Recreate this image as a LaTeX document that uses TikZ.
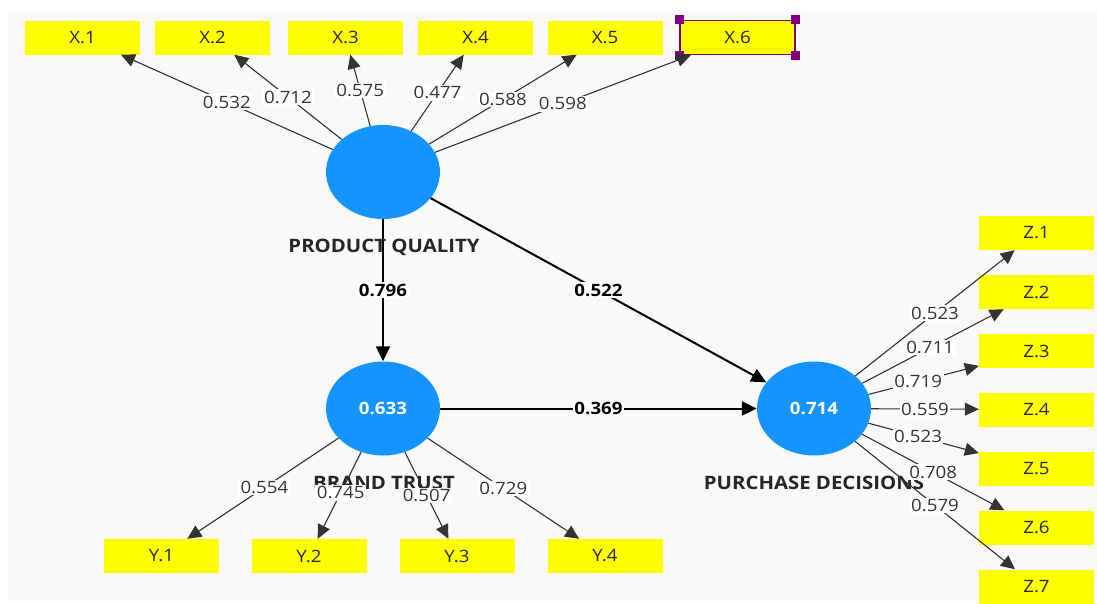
\documentclass[tikz,border=0pt]{standalone}
\usepackage{fontspec}
\setmainfont{Open Sans}[FakeStretch=1.1]
\usetikzlibrary{shapes.geometric,arrows.meta}
\definecolor{lvblue}{RGB}{20,148,255}
\definecolor{indyellow}{RGB}{255,255,0}
\definecolor{canvas}{RGB}{249,249,249}
\definecolor{selpurple}{RGB}{128,0,128}
\begin{document}
\begin{tikzpicture}[x=1pt,y=-1pt,
  indicator/.style={rectangle, fill=indyellow, minimum width=115pt, minimum height=34pt,
    inner sep=0pt, font=\fontsize{17}{17}\selectfont, text=black!85},
  latent/.style={ellipse, fill=lvblue, minimum width=114pt, minimum height=94pt,
    inner sep=0pt, text=white, font=\fontsize{17}{17}\selectfont\bfseries},
  lvname/.style={font=\fontsize{18.5}{19}\selectfont\bfseries, text=black!85},
  loading/.style={draw=black!80, line width=1.1pt, -{Triangle[length=14pt,width=13pt]}},
  pathcoef/.style={draw=black, line width=2pt, -{Triangle[length=15pt,width=14pt]}},
  lval/.style={fill=white, inner sep=1.5pt, font=\fontsize{17}{17}\selectfont, text=black!80},
  pval/.style={fill=white, inner sep=1.5pt, font=\fontsize{17}{17}\selectfont\bfseries, text=black},
  handle/.style={rectangle, fill=selpurple, minimum size=9pt, inner sep=0pt},
]
\useasboundingbox (0,0) rectangle (1097,603);
\fill[white] (0,0) rectangle (1097,603);
\fill[canvas] (8,11) rectangle (1097,603);

% latent variables
\node[latent] (pq) at (383,172) {};
\node[latent] (bt) at (383,408.5) {0.633};
\node[latent] (pd) at (814,408.5) {0.714};
\node[lvname] (pqname) at (384,247) {PRODUCT QUALITY};
\node[lvname] (btname) at (384,483) {BRAND TRUST};
\node[lvname] (pdname) at (814,483) {PURCHASE DECISIONS};

% indicators of product quality
\node[indicator] (x1) at (82.5,37.5) {X.1};
\node[indicator] (x2) at (212.5,37.5) {X.2};
\node[indicator] (x3) at (345.5,37.5) {X.3};
\node[indicator] (x4) at (475.5,37.5) {X.4};
\node[indicator] (x5) at (605,37.5) {X.5};
\node[indicator, draw=selpurple, line width=1.5pt] (x6) at (737.5,37.5) {X.6};
\node[handle] (h1) at (x6.north west) {};
\node[handle] (h2) at (x6.north east) {};
\node[handle] (h3) at (x6.south west) {};
\node[handle] (h4) at (x6.south east) {};

% indicators of brand trust
\node[indicator] (y1) at (161.5,556) {Y.1};
\node[indicator] (y2) at (309,556) {Y.2};
\node[indicator] (y3) at (457,556) {Y.3};
\node[indicator] (y4) at (605,556) {Y.4};

% indicators of purchase decisions
\node[indicator] (z1) at (1036.5,233) {Z.1};
\node[indicator] (z2) at (1036.5,292) {Z.2};
\node[indicator] (z3) at (1036.5,351) {Z.3};
\node[indicator] (z4) at (1036.5,409.5) {Z.4};
\node[indicator] (z5) at (1036.5,468.5) {Z.5};
\node[indicator] (z6) at (1036.5,527.5) {Z.6};
\node[indicator] (z7) at (1036.5,586.5) {Z.7};

% outer loadings
\draw[loading] (pq) -- node[lval,pos=0.5]{0.532} (x1);
\draw[loading] (pq) -- node[lval,pos=0.5]{0.712} (x2);
\draw[loading] (pq) -- node[lval,pos=0.5]{0.575} (x3);
\draw[loading] (pq) -- node[lval,pos=0.5]{0.477} (x4);
\draw[loading] (pq) -- node[lval,pos=0.5]{0.588} (x5);
\draw[loading] (pq) -- node[lval,pos=0.5]{0.598} (x6);

\draw[loading] (bt) -- node[lval,pos=0.49]{0.554} (y1);
\draw[loading] (bt) -- node[lval,pos=0.47]{0.745} (y2);
\draw[loading] (bt) -- node[lval,pos=0.5]{0.507} (y3);
\draw[loading] (bt) -- node[lval,pos=0.5]{0.729} (y4);

\draw[loading] (pd) -- node[lval,pos=0.5]{0.523} (z1);
\draw[loading] (pd) -- node[lval,pos=0.48]{0.711} (z2);
\draw[loading] (pd) -- node[lval,pos=0.45]{0.719} (z3);
\draw[loading] (pd) -- node[lval,pos=0.5]{0.559} (z4);
\draw[loading] (pd) -- node[lval,pos=0.45]{0.523} (z5);
\draw[loading] (pd) -- node[lval,pos=0.5]{0.708} (z6);
\draw[loading] (pd) -- node[lval,pos=0.5]{0.579} (z7);

% structural paths
\draw[pathcoef] (pq) -- node[pval]{0.796} (bt);
\draw[pathcoef] (pq) -- node[pval]{0.522} (pd);
\draw[pathcoef] (bt) -- node[pval]{0.369} (pd);
\end{tikzpicture}
\end{document}
